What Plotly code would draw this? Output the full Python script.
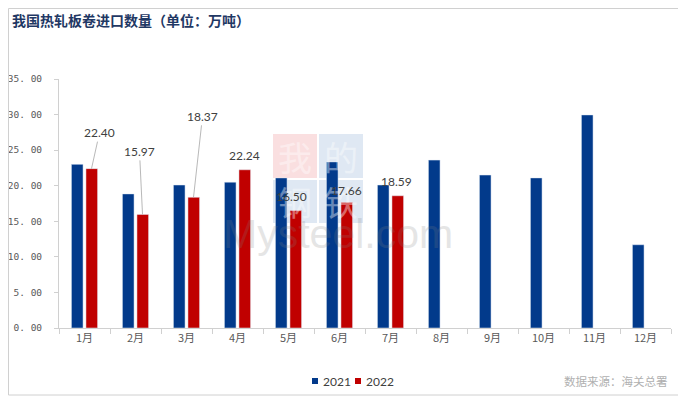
import plotly.graph_objects as go

months = ["1月", "2月", "3月", "4月", "5月", "6月", "7月", "8月", "9月", "10月", "11月", "12月"]
v2021 = [23.0, 18.85, 20.1, 20.5, 21.1, 23.35, 20.1, 23.6, 21.5, 21.1, 29.95, 11.7]
v2022 = [22.40, 15.97, 18.37, 22.24, 16.50, 17.66, 18.59]
series_names = ["2021", "2022"]
y_tickvals = [0, 5, 10, 15, 20, 25, 30, 35]
y_ticktext = ["0. 00", "5. 00", "10. 00", "15. 00", "20. 00", "25. 00", "30. 00", "35. 00"]

# label placement (pixel offsets): (arrow?, dx, dy)
label_pos = [(True, 8, -36), (True, -3, -63), (True, 9, -81), (False, 0, 14),
             (False, -4, 14), (False, 0, 12), (False, -1, 14)]

BLUE = "#023a8b"
RED = "#c00000"
OFF = 8  # page body margin of the browser
W, H = 686 - OFF, 396 - OFF
L, T = 59 - OFF, 79 - OFF
R = W - (671 - OFF)
B = H - (328 - OFF)
PW, PH = W - L - R, H - T - B


def px(x):
    return (x - OFF - L) / PW


def py(y):
    return (H - B - (y - OFF)) / PH


fig = go.Figure()
fig.add_trace(go.Bar(x=months, y=v2021, name=series_names[0], marker_color=BLUE, showlegend=False))
fig.add_trace(go.Bar(x=months[:len(v2022)], y=v2022, name=series_names[1], marker_color=RED,
                     showlegend=False))

annotations = []
shapes = []

# watermark
boxes = [(273, 134, 317, 178, "rgba(230,110,115,0.22)", "我"),
         (319, 134, 363, 178, "rgba(110,150,200,0.22)", "的"),
         (273, 180, 317, 223, "rgba(110,150,200,0.22)", "钢"),
         (319, 180, 363, 223, "rgba(110,150,200,0.22)", "铁")]
for x0, y0, x1, y1, col, ch in boxes:
    shapes.append(dict(type="rect", xref="paper", yref="paper", x0=px(x0), x1=px(x1),
                       y0=py(y1), y1=py(y0), fillcolor=col, line=dict(width=0), layer="below"))
    annotations.append(dict(x=px((x0 + x1) / 2), y=py((y0 + y1) / 2), xref="paper", yref="paper",
                            xanchor="center", yanchor="middle", showarrow=False, text=ch,
                            opacity=0.4,
                            font=dict(family="Noto Sans CJK SC", size=34, color="white")))
annotations.append(dict(x=px(338), y=py(234), xref="paper", yref="paper", showarrow=False,
                        xanchor="center", yanchor="middle", text="Mysteel.com", opacity=0.2,
                        font=dict(family="Liberation Sans", size=41, color="#808080")))

for m, v, (arr, dx, dy) in zip(months, v2022, label_pos):
    a = dict(x=m, y=v, xref="x", yref="y", text=f"{v:.2f}",
             font=dict(family="Lato", size=12, color="#404040"))
    if arr:
        a.update(showarrow=True, ax=dx, ay=dy, arrowhead=0, arrowwidth=0.8,
                 arrowcolor="#a6a6a6", standoff=0, xshift=7)
    else:
        a.update(showarrow=False, xshift=7 + dx, yshift=dy)
    annotations.append(a)

# title
annotations.append(dict(x=px(10), y=py(OFF), xref="paper", yref="paper", xanchor="left",
                        yanchor="top", showarrow=False,
                        text="<b>我国热轧板卷进口数量（单位：万吨）</b>",
                        font=dict(family="Noto Sans CJK SC", size=14, color="#1f3864")))

# source
annotations.append(dict(x=px(670), y=py(381), xref="paper", yref="paper", xanchor="right",
                        yanchor="middle", showarrow=False, text="数据来源：海关总署",
                        font=dict(family="Noto Sans CJK SC", size=11.5, color="#b0b0b0")))

# legend (manual, compact like the reference)
leg_x = [312, 355]
for nm, c, lx in zip(series_names, [BLUE, RED], leg_x):
    shapes.append(dict(type="rect", xref="paper", yref="paper", x0=px(lx), x1=px(lx + 6),
                       y0=py(384), y1=py(378), fillcolor=c, line=dict(width=0)))
    annotations.append(dict(x=px(lx + 9), y=py(381), xref="paper", yref="paper", xanchor="left",
                            yanchor="middle", showarrow=False, text=nm,
                            font=dict(family="Lato", size=12, color="#404040")))

# border
shapes.append(dict(type="rect", xref="paper", yref="paper", x0=px(8.5), x1=px(685),
                   y0=py(395), y1=py(8.5), line=dict(color="#d0d0d0", width=1),
                   fillcolor="rgba(0,0,0,0)", layer="above"))

fig.update_layout(
    width=W, height=H, margin=dict(l=L, r=R, t=T, b=B, autoexpand=False),
    paper_bgcolor="white", plot_bgcolor="rgba(0,0,0,0)",
    barmode="group", bargap=0.43, bargroupgap=0.2,
    showlegend=False,
    annotations=annotations, shapes=shapes,
    xaxis=dict(type="category", showgrid=False, showline=True, linecolor="#d0d0d0",
               ticks="outside", tickson="boundaries", ticklen=5, tickcolor="#d0d0d0",
               automargin=False,
               tickfont=dict(family="Noto Sans CJK SC", size=11, color="#595959")),
    yaxis=dict(range=[0, 35], showgrid=False, showline=True, linecolor="#d0d0d0",
               ticks="outside", ticklen=4, tickcolor="#d0d0d0", tickvals=y_tickvals,
               ticktext=y_ticktext, zeroline=False, automargin=False, ticklabelstandoff=10,
               tickfont=dict(family="DejaVu Sans Mono", size=9.5, color="#595959")),
)

fig.write_html("out.html")
